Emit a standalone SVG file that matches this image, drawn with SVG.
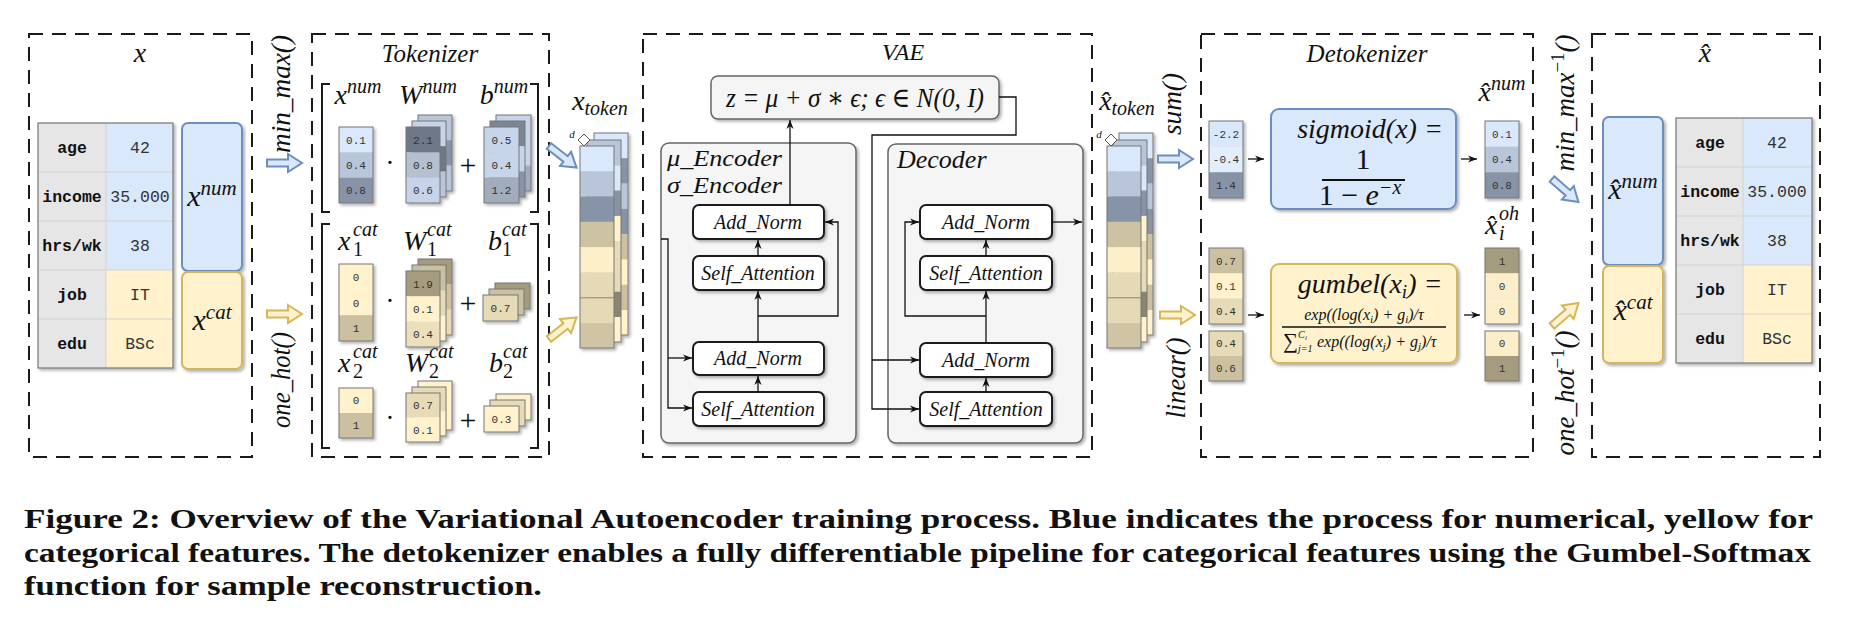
<svg xmlns="http://www.w3.org/2000/svg" xmlns:xlink="http://www.w3.org/1999/xlink" width="1852" height="640" viewBox="0 0 1852 640">
<defs>
<style>
.dash{fill:none;stroke:#1a1a1a;stroke-width:2;stroke-dasharray:14 9}
.m{font-family:"Liberation Serif","DejaVu Serif",serif;font-style:italic;fill:#111}
.r{font-family:"Liberation Serif","DejaVu Serif",serif;font-style:normal;fill:#111}
.key{font-family:"Liberation Mono","DejaVu Sans Mono",monospace;font-weight:bold;fill:#111;font-size:16.5px}
.val{font-family:"Liberation Mono","DejaVu Sans Mono",monospace;fill:#333;font-size:16.5px}
.cv{font-family:"Liberation Mono","DejaVu Sans Mono",monospace;fill:#333;font-size:11px}
.vo{fill:none;stroke:#777;stroke-width:1}
.blk{fill:#fff;stroke:#1a1a1a;stroke-width:2}
.cont{fill:#f5f5f5;stroke:#666;stroke-width:1.5}
.con{fill:none;stroke:#111;stroke-width:1.3}
.ba-b{fill:#dae8fc;stroke:#6c8ebf;stroke-width:2}
.ba-y{fill:#fff2cc;stroke:#d6b656;stroke-width:2}
.cap{font-family:"Liberation Serif","DejaVu Serif",serif;font-weight:bold;font-size:28px;fill:#111}
</style>
<filter id="sh" x="-20%" y="-20%" width="140%" height="140%">
<feDropShadow dx="2" dy="2" stdDeviation="1.5" flood-color="#000" flood-opacity="0.3"/>
</filter>
<marker id="ah" viewBox="0 0 10 10" refX="10" refY="5" markerWidth="9" markerHeight="9" markerUnits="userSpaceOnUse" orient="auto">
<path d="M0,1 L10,5 L0,9 L3,5 Z" fill="#111"/>
</marker>
<path id="barrow" d="M0,-3.5 H21 V-9 L35,0 L21,9 V3.5 H0 Z"/>
</defs>
<rect width="1852" height="640" fill="#fff"/>

<!-- ===== x panel ===== -->
<g id="panel-x">
<rect class="dash" x="29" y="34" width="223" height="423"/>
<text class="m" x="140" y="62" text-anchor="middle" font-size="28">x</text>
</g>
<g id="table-x" filter="url(#sh)">
<rect x="38" y="123" width="68" height="245" fill="#e6e6e6"/>
<rect x="106" y="123" width="67" height="147" fill="#dae8fc"/>
<rect x="106" y="270" width="67" height="98" fill="#fff2cc"/>
<path d="M38,172H173M38,221H173M38,270H173M38,319H173M106,123V368" stroke="#d2d2d2" stroke-width="1" fill="none"/>
<rect x="38" y="123" width="135" height="245" fill="none" stroke="#777" stroke-width="1.2"/>
</g>
<g id="table-x-text">
<text class="key" x="72" y="153" text-anchor="middle">age</text>
<text class="key" x="72" y="202" text-anchor="middle">income</text>
<text class="key" x="72" y="251" text-anchor="middle">hrs/wk</text>
<text class="key" x="72" y="300" text-anchor="middle">job</text>
<text class="key" x="72" y="349" text-anchor="middle">edu</text>
<text class="val" x="140" y="153" text-anchor="middle">42</text>
<text class="val" x="140" y="202" text-anchor="middle">35.000</text>
<text class="val" x="140" y="251" text-anchor="middle">38</text>
<text class="val" x="140" y="300" text-anchor="middle">IT</text>
<text class="val" x="140" y="349" text-anchor="middle">BSc</text>
</g>
<g id="x-num">
<rect x="182" y="123" width="60" height="148" rx="6" fill="#dae8fc" stroke="#6c8ebf" stroke-width="2" filter="url(#sh)"/>
<text class="m" x="212" y="206" text-anchor="middle" font-size="30">x<tspan dy="-11" font-size="21">num</tspan></text>
</g>
<g id="x-cat">
<rect x="182" y="272" width="60" height="97" rx="6" fill="#fff2cc" stroke="#d6b656" stroke-width="2" filter="url(#sh)"/>
<text class="m" x="212" y="330" text-anchor="middle" font-size="30">x<tspan dy="-11" font-size="21">cat</tspan></text>
</g>

<!-- ===== Tokenizer ===== -->
<g id="tokenizer">
<rect class="dash" x="312" y="34" width="237" height="423"/>
<text class="m" x="430" y="62" text-anchor="middle" font-size="25">Tokenizer</text>
<path d="M330,84H322V212H330M530,84H538V212H530" fill="none" stroke="#1a1a1a" stroke-width="2"/>
<path d="M330,224H322V448H330M530,224H538V448H530" fill="none" stroke="#1a1a1a" stroke-width="2"/>
<text class="m" x="358" y="104" text-anchor="middle" font-size="28">x<tspan dy="-11" font-size="20">num</tspan></text>
<text class="m" x="428" y="104" text-anchor="middle" font-size="28">W<tspan dy="-11" font-size="20">num</tspan></text>
<text class="m" x="504" y="104" text-anchor="middle" font-size="28">b<tspan dy="-11" font-size="20">num</tspan></text>
<text class="m" font-size="28"><tspan x="338" y="250">x</tspan><tspan x="353" y="236" font-size="20">cat</tspan></text>
<text class="r" x="353" y="256" font-size="20">1</text>
<text class="m" font-size="28"><tspan x="403" y="250">W</tspan><tspan x="427" y="236" font-size="20">cat</tspan></text>
<text class="r" x="427" y="256" font-size="20">1</text>
<text class="m" font-size="28"><tspan x="488" y="250">b</tspan><tspan x="502" y="236" font-size="20">cat</tspan></text>
<text class="r" x="502" y="256" font-size="20">1</text>
<text class="m" font-size="28"><tspan x="338" y="372">x</tspan><tspan x="353" y="358" font-size="20">cat</tspan></text>
<text class="r" x="353" y="378" font-size="20">2</text>
<text class="m" font-size="28"><tspan x="405" y="372">W</tspan><tspan x="429" y="358" font-size="20">cat</tspan></text>
<text class="r" x="429" y="378" font-size="20">2</text>
<text class="m" font-size="28"><tspan x="489" y="372">b</tspan><tspan x="503" y="358" font-size="20">cat</tspan></text>
<text class="r" x="503" y="378" font-size="20">2</text>
<text class="r" x="390" y="172" text-anchor="middle" font-size="28">·</text>
<text class="r" x="390" y="310" text-anchor="middle" font-size="28">·</text>
<text class="r" x="390" y="427" text-anchor="middle" font-size="28">·</text>
<text class="r" x="468" y="175" text-anchor="middle" font-size="30">+</text>
<text class="r" x="468" y="313" text-anchor="middle" font-size="30">+</text>
<text class="r" x="468" y="430" text-anchor="middle" font-size="30">+</text>
</g>

<g id="vec-xnum" filter="url(#sh)">
<rect x="339" y="127" width="34" height="25.4" fill="#dae8fc"/>
<rect x="339" y="152.4" width="34" height="25.3" fill="#b9c6d9"/>
<rect x="339" y="177.7" width="34" height="25.3" fill="#8793a6"/>
<rect class="vo" x="339" y="127" width="34" height="76"/>
</g>
<g class="cv" text-anchor="middle"><text x="356" y="144">0.1</text><text x="356" y="169">0.4</text><text x="356" y="194">0.8</text></g>

<g id="stack-wnum" filter="url(#sh)">
<rect x="418" y="115" width="34" height="25.3" fill="#b9c6d9"/><rect x="418" y="140.3" width="34" height="25.3" fill="#8793a6"/><rect x="418" y="165.6" width="34" height="25.4" fill="#b9c6d9"/><rect class="vo" x="418" y="115" width="34" height="76"/>
<rect x="412" y="121" width="34" height="25.3" fill="#c6d3e8"/><rect x="412" y="146.3" width="34" height="25.3" fill="#6e7888"/><rect x="412" y="171.6" width="34" height="25.4" fill="#b9c6d9"/><rect class="vo" x="412" y="121" width="34" height="76"/>
<rect x="406" y="127" width="34" height="25.3" fill="#6e7888"/><rect x="406" y="152.3" width="34" height="25.3" fill="#b4bfd0"/><rect x="406" y="177.6" width="34" height="25.4" fill="#c6d3e8"/><rect class="vo" x="406" y="127" width="34" height="76"/>
</g>
<g class="cv" text-anchor="middle"><text x="423" y="144">2.1</text><text x="423" y="169">0.8</text><text x="423" y="194">0.6</text></g>

<g id="stack-bnum" filter="url(#sh)">
<rect x="496" y="115" width="35" height="25.3" fill="#c6d5ea"/><rect x="496" y="140.3" width="35" height="25.3" fill="#c6d5ea"/><rect x="496" y="165.6" width="35" height="25.4" fill="#a1acbc"/><rect class="vo" x="496" y="115" width="35" height="76"/>
<rect x="490" y="121" width="35" height="25.3" fill="#7b8596"/><rect x="490" y="146.3" width="35" height="25.3" fill="#c6d5ea"/><rect x="490" y="171.6" width="35" height="25.4" fill="#8793a6"/><rect class="vo" x="490" y="121" width="35" height="76"/>
<rect x="484" y="127" width="35" height="25.3" fill="#c6d5ea"/><rect x="484" y="152.3" width="35" height="25.3" fill="#c6d5ea"/><rect x="484" y="177.6" width="35" height="25.4" fill="#a1acbc"/><rect class="vo" x="484" y="127" width="35" height="76"/>
</g>
<g class="cv" text-anchor="middle"><text x="501.5" y="144">0.5</text><text x="501.5" y="169">0.4</text><text x="501.5" y="194">1.2</text></g>

<g id="vec-x1cat" filter="url(#sh)">
<rect x="339" y="264" width="34" height="51.3" fill="#fff2cc"/>
<rect x="339" y="315.3" width="34" height="25.7" fill="#cbc1a1"/>
<rect class="vo" x="339" y="264" width="34" height="77"/>
</g>
<g class="cv" text-anchor="middle"><text x="356" y="281">0</text><text x="356" y="307">0</text><text x="356" y="332">1</text></g>

<g id="stack-w1cat" filter="url(#sh)">
<rect x="418" y="259" width="34" height="25.3" fill="#a59c7f"/><rect x="418" y="284.3" width="34" height="25.3" fill="#cbc1a1"/><rect x="418" y="309.6" width="34" height="25.4" fill="#e6dab7"/><rect class="vo" x="418" y="259" width="34" height="76"/>
<rect x="412" y="265" width="34" height="25.3" fill="#cbc1a1"/><rect x="412" y="290.3" width="34" height="25.3" fill="#e6dab7"/><rect x="412" y="315.6" width="34" height="25.4" fill="#fff2cc"/><rect class="vo" x="412" y="265" width="34" height="76"/>
<rect x="406" y="271" width="34" height="25.3" fill="#a59c7f"/><rect x="406" y="296.3" width="34" height="25.3" fill="#fff2cc"/><rect x="406" y="321.6" width="34" height="25.4" fill="#ecdfbb"/><rect class="vo" x="406" y="271" width="34" height="76"/>
</g>
<g class="cv" text-anchor="middle"><text x="423" y="288">1.9</text><text x="423" y="313">0.1</text><text x="423" y="338">0.4</text></g>

<g id="stack-b1cat" filter="url(#sh)">
<rect x="495" y="283" width="35" height="26" fill="#a59c7f" stroke="#777" stroke-width="1"/>
<rect x="489" y="289" width="35" height="26" fill="#cbc1a1" stroke="#777" stroke-width="1"/>
<rect x="483" y="295" width="35" height="26" fill="#e6dab7" stroke="#777" stroke-width="1"/>
</g>
<text class="cv" x="500.5" y="312" text-anchor="middle">0.7</text>

<g id="vec-x2cat" filter="url(#sh)">
<rect x="339" y="388" width="34" height="25" fill="#fff2cc"/>
<rect x="339" y="413" width="34" height="25" fill="#cbc1a1"/>
<rect class="vo" x="339" y="388" width="34" height="50"/>
</g>
<g class="cv" text-anchor="middle"><text x="356" y="404">0</text><text x="356" y="429">1</text></g>

<g id="stack-w2cat" filter="url(#sh)">
<rect x="418" y="381" width="34" height="49" fill="#fff2cc" stroke="#777" stroke-width="1"/>
<rect x="412" y="387" width="34" height="24.5" fill="#e6dab7"/><rect x="412" y="411.5" width="34" height="24.5" fill="#fff2cc"/><rect class="vo" x="412" y="387" width="34" height="49"/>
<rect x="406" y="393" width="34" height="24.5" fill="#e6dab7"/><rect x="406" y="417.5" width="34" height="24.5" fill="#fff2cc"/><rect class="vo" x="406" y="393" width="34" height="49"/>
</g>
<g class="cv" text-anchor="middle"><text x="423" y="409">0.7</text><text x="423" y="434">0.1</text></g>

<g id="stack-b2cat" filter="url(#sh)">
<rect x="496" y="394" width="35" height="26" fill="#fff2cc" stroke="#777" stroke-width="1"/>
<rect x="490" y="400" width="35" height="26" fill="#e6dab7" stroke="#777" stroke-width="1"/>
<rect x="484" y="406" width="35" height="26" fill="#fff2cc" stroke="#777" stroke-width="1"/>
</g>
<text class="cv" x="501.5" y="423" text-anchor="middle">0.3</text>

<!-- ===== x_token ===== -->
<g id="x-token">
<text class="m" x="600" y="110" text-anchor="middle" font-size="28">x<tspan dy="5" font-size="20">token</tspan></text>
<g filter="url(#sh)">
<rect x="594" y="133" width="34" height="25.3" fill="#dae8fc"/><rect x="594" y="158.3" width="34" height="25.3" fill="#8793a6"/><rect x="594" y="183.6" width="34" height="25.3" fill="#b9c6d9"/><rect x="594" y="208.9" width="34" height="25.3" fill="#8793a6"/><rect x="594" y="234.2" width="34" height="25.3" fill="#cbc1a1"/><rect x="594" y="259.5" width="34" height="25.3" fill="#fff2cc"/><rect x="594" y="284.8" width="34" height="25.3" fill="#cbc1a1"/><rect x="594" y="310.1" width="34" height="24.9" fill="#fff2cc"/><rect class="vo" x="594" y="133" width="34" height="202"/>
<rect x="587" y="140" width="34" height="25.3" fill="#b9c6d9"/><rect x="587" y="165.3" width="34" height="25.3" fill="#dae8fc"/><rect x="587" y="190.6" width="34" height="25.3" fill="#8793a6"/><rect x="587" y="215.9" width="34" height="25.3" fill="#fff2cc"/><rect x="587" y="241.2" width="34" height="25.3" fill="#e6dab7"/><rect x="587" y="266.5" width="34" height="25.3" fill="#e6dab7"/><rect x="587" y="291.8" width="34" height="25.3" fill="#8b8470"/><rect x="587" y="317.1" width="34" height="24.9" fill="#fff2cc"/><rect class="vo" x="587" y="140" width="34" height="202"/>
<rect x="580" y="146" width="34" height="25.3" fill="#dae8fc"/><rect x="580" y="171.3" width="34" height="25.3" fill="#b9c6d9"/><rect x="580" y="196.6" width="34" height="25.3" fill="#8793a6"/><rect x="580" y="221.9" width="34" height="25.3" fill="#cdc3a3"/><rect x="580" y="247.2" width="34" height="25.3" fill="#fdf0c9"/><rect x="580" y="272.5" width="34" height="25.3" fill="#e6dab6"/><rect x="580" y="297.8" width="34" height="25.3" fill="#e6dab6"/><rect x="580" y="323.1" width="34" height="24.9" fill="#cfc5a5"/><rect class="vo" x="580" y="146" width="34" height="202"/>
<line x1="580" y1="297.8" x2="614" y2="297.8" stroke="#888" stroke-width="1"/>
</g>
<polygon points="578,140 584,134 590,140 584,146" fill="#fff" stroke="#555" stroke-width="1"/>
<text class="m" x="572" y="138" text-anchor="middle" font-size="11">d</text>
</g>

<!-- ===== VAE ===== -->
<g id="vae">
<rect class="dash" x="643" y="34" width="449" height="423"/>
<text class="m" x="903" y="60" text-anchor="middle" font-size="24">VAE</text>
</g>
<g id="z-box">
<rect x="711" y="76" width="288" height="43" rx="7" fill="#f5f5f5" stroke="#666" stroke-width="1.5" filter="url(#sh)"/>
<text class="m" x="855" y="107" text-anchor="middle" font-size="28" textLength="258" lengthAdjust="spacingAndGlyphs">z = μ + σ ∗ ϵ; ϵ ∈ N(0, I)</text>
</g>
<g id="encoder">
<rect class="cont" x="661" y="143" width="195" height="300" rx="8" filter="url(#sh)"/>
<text class="m" x="667" y="166" font-size="24" textLength="115" lengthAdjust="spacingAndGlyphs">μ_Encoder</text>
<text class="m" x="667" y="193" font-size="24" textLength="115" lengthAdjust="spacingAndGlyphs">σ_Encoder</text>
</g>
<g id="enc-addnorm-top"><rect class="blk" x="693" y="205" width="131" height="34" rx="6" filter="url(#sh)"/><text class="m" x="758" y="229" text-anchor="middle" font-size="20">Add_Norm</text></g>
<g id="enc-selfatt-top"><rect class="blk" x="693" y="256" width="131" height="34" rx="6" filter="url(#sh)"/><text class="m" x="758" y="280" text-anchor="middle" font-size="20">Self_Attention</text></g>
<g id="enc-addnorm-bot"><rect class="blk" x="693" y="342" width="131" height="33" rx="6" filter="url(#sh)"/><text class="m" x="758" y="365" text-anchor="middle" font-size="20">Add_Norm</text></g>
<g id="enc-selfatt-bot"><rect class="blk" x="693" y="392" width="131" height="34" rx="6" filter="url(#sh)"/><text class="m" x="758" y="416" text-anchor="middle" font-size="20">Self_Attention</text></g>
<g id="decoder">
<rect class="cont" x="888" y="144" width="195" height="299" rx="8" filter="url(#sh)"/>
<text class="m" x="897" y="168" font-size="26">Decoder</text>
</g>
<g id="dec-addnorm-top"><rect class="blk" x="920" y="205" width="132" height="34" rx="6" filter="url(#sh)"/><text class="m" x="986" y="229" text-anchor="middle" font-size="20">Add_Norm</text></g>
<g id="dec-selfatt-top"><rect class="blk" x="920" y="256" width="132" height="34" rx="6" filter="url(#sh)"/><text class="m" x="986" y="280" text-anchor="middle" font-size="20">Self_Attention</text></g>
<g id="dec-addnorm-bot"><rect class="blk" x="920" y="343" width="132" height="34" rx="6" filter="url(#sh)"/><text class="m" x="986" y="367" text-anchor="middle" font-size="20">Add_Norm</text></g>
<g id="dec-selfatt-bot"><rect class="blk" x="920" y="392" width="132" height="34" rx="6" filter="url(#sh)"/><text class="m" x="986" y="416" text-anchor="middle" font-size="20">Self_Attention</text></g>

<!-- ===== x̂_token ===== -->
<g id="xhat-token">
<text class="m" x="1127" y="110" text-anchor="middle" font-size="28">x̂<tspan dy="5" font-size="20">token</tspan></text>
<g filter="url(#sh)">
<rect x="1119" y="133" width="34" height="25.3" fill="#dae8fc"/><rect x="1119" y="158.3" width="34" height="25.3" fill="#8793a6"/><rect x="1119" y="183.6" width="34" height="25.3" fill="#b9c6d9"/><rect x="1119" y="208.9" width="34" height="25.3" fill="#8793a6"/><rect x="1119" y="234.2" width="34" height="25.3" fill="#cbc1a1"/><rect x="1119" y="259.5" width="34" height="25.3" fill="#fff2cc"/><rect x="1119" y="284.8" width="34" height="25.3" fill="#cbc1a1"/><rect x="1119" y="310.1" width="34" height="24.9" fill="#fff2cc"/><rect class="vo" x="1119" y="133" width="34" height="202"/>
<rect x="1113" y="140" width="34" height="25.3" fill="#b9c6d9"/><rect x="1113" y="165.3" width="34" height="25.3" fill="#dae8fc"/><rect x="1113" y="190.6" width="34" height="25.3" fill="#8793a6"/><rect x="1113" y="215.9" width="34" height="25.3" fill="#fff2cc"/><rect x="1113" y="241.2" width="34" height="25.3" fill="#e6dab7"/><rect x="1113" y="266.5" width="34" height="25.3" fill="#e6dab7"/><rect x="1113" y="291.8" width="34" height="25.3" fill="#8b8470"/><rect x="1113" y="317.1" width="34" height="24.9" fill="#fff2cc"/><rect class="vo" x="1113" y="140" width="34" height="202"/>
<rect x="1107" y="146" width="34" height="25.3" fill="#dae8fc"/><rect x="1107" y="171.3" width="34" height="25.3" fill="#b9c6d9"/><rect x="1107" y="196.6" width="34" height="25.3" fill="#8793a6"/><rect x="1107" y="221.9" width="34" height="25.3" fill="#cdc3a3"/><rect x="1107" y="247.2" width="34" height="25.3" fill="#fdf0c9"/><rect x="1107" y="272.5" width="34" height="25.3" fill="#e6dab6"/><rect x="1107" y="297.8" width="34" height="25.3" fill="#e6dab6"/><rect x="1107" y="323.1" width="34" height="24.9" fill="#cfc5a5"/><rect class="vo" x="1107" y="146" width="34" height="202"/>
<line x1="1107" y1="297.8" x2="1141" y2="297.8" stroke="#888" stroke-width="1"/>
</g>
<polygon points="1105,140 1111,134 1117,140 1111,146" fill="#fff" stroke="#555" stroke-width="1"/>
<text class="m" x="1099" y="138" text-anchor="middle" font-size="11">d</text>
</g>

<!-- ===== Detokenizer ===== -->
<g id="detokenizer">
<rect class="dash" x="1201" y="34" width="332" height="423"/>
<text class="m" x="1367" y="62" text-anchor="middle" font-size="25">Detokenizer</text>
<text class="m" x="1502" y="101" text-anchor="middle" font-size="28">x̂<tspan dy="-11" font-size="20">num</tspan></text>
<text class="m" font-size="28"><tspan x="1485" y="234">x̂</tspan><tspan x="1499" y="220" font-size="20">oh</tspan><tspan x="1499" y="240" font-size="20">i</tspan></text>
</g>
<g id="sigmoid-box">
<rect x="1271" y="109" width="185" height="100" rx="8" fill="#dae8fc" stroke="#6c8ebf" stroke-width="2" filter="url(#sh)"/>
<text class="m" x="1370" y="138" text-anchor="middle" font-size="28">sigmoid(x) =</text>
<text class="r" x="1363" y="169" text-anchor="middle" font-size="30">1</text>
<line x1="1322" y1="180" x2="1405" y2="180" stroke="#111" stroke-width="2"/>
<text class="r" x="1360" y="205" text-anchor="middle" font-size="30">1 − <tspan font-style="italic">e</tspan><tspan dy="-11" font-size="20" font-style="italic">−x</tspan></text>
</g>
<g id="gumbel-box">
<rect x="1271" y="264" width="186" height="99" rx="8" fill="#fff2cc" stroke="#d6b656" stroke-width="2" filter="url(#sh)"/>
<text class="m" x="1370" y="293" text-anchor="middle" font-size="28">gumbel(x<tspan dy="5" font-size="19">i</tspan><tspan dy="-5">) =</tspan></text>
<text class="m" x="1364" y="320" text-anchor="middle" font-size="16">exp((log(x<tspan dy="3" font-size="11">i</tspan><tspan dy="-3">) + g</tspan><tspan dy="3" font-size="11">i</tspan><tspan dy="-3">)/τ</tspan></text>
<line x1="1282" y1="327" x2="1446" y2="327" stroke="#111" stroke-width="1.3"/>
<text class="m" font-size="16"><tspan x="1283" y="348" class="r" font-size="21">∑</tspan><tspan x="1298" y="338" font-size="10">C</tspan><tspan x="1305" y="340" font-size="7">i</tspan><tspan x="1298" y="352" font-size="10">j=1</tspan><tspan x="1317" y="347">exp((log(x</tspan><tspan dy="3" font-size="11">j</tspan><tspan dy="-3">) + g</tspan><tspan dy="3" font-size="11">j</tspan><tspan dy="-3">)/τ</tspan></text>
</g>
<g id="vec-det-in-num" filter="url(#sh)">
<rect x="1209" y="121" width="34" height="25.7" fill="#dae8fc"/><rect x="1209" y="146.7" width="34" height="25.6" fill="#e3eefd"/><rect x="1209" y="172.3" width="34" height="25.7" fill="#8793a6"/><rect class="vo" x="1209" y="121" width="34" height="77"/>
</g>
<g class="cv" text-anchor="middle"><text x="1226" y="138">-2.2</text><text x="1226" y="163">-0.4</text><text x="1226" y="189">1.4</text></g>
<g id="vec-det-out-num" filter="url(#sh)">
<rect x="1485" y="121" width="34" height="25.7" fill="#dae8fc"/><rect x="1485" y="146.7" width="34" height="25.6" fill="#b9c6d9"/><rect x="1485" y="172.3" width="34" height="25.7" fill="#8793a6"/><rect class="vo" x="1485" y="121" width="34" height="77"/>
</g>
<g class="cv" text-anchor="middle"><text x="1502" y="138">0.1</text><text x="1502" y="163">0.4</text><text x="1502" y="189">0.8</text></g>
<g id="vec-det-in-cat" filter="url(#sh)">
<rect x="1209" y="248" width="34" height="25.3" fill="#cbc1a1"/><rect x="1209" y="273.3" width="34" height="25.3" fill="#fff2cc"/><rect x="1209" y="298.6" width="34" height="25.4" fill="#e6dab7"/><rect class="vo" x="1209" y="248" width="34" height="76"/>
<rect x="1209" y="331" width="34" height="25" fill="#e6dab7"/><rect x="1209" y="356" width="34" height="25" fill="#cbc1a1"/><rect class="vo" x="1209" y="331" width="34" height="50"/>
</g>
<g class="cv" text-anchor="middle"><text x="1226" y="265">0.7</text><text x="1226" y="290">0.1</text><text x="1226" y="315">0.4</text><text x="1226" y="347">0.4</text><text x="1226" y="372">0.6</text></g>
<g id="vec-det-out-cat" filter="url(#sh)">
<rect x="1485" y="248" width="34" height="25.3" fill="#a59c7f"/><rect x="1485" y="273.3" width="34" height="25.3" fill="#fbeec8"/><rect x="1485" y="298.6" width="34" height="25.4" fill="#fbeec8"/><rect class="vo" x="1485" y="248" width="34" height="76"/>
<rect x="1485" y="331" width="34" height="25" fill="#fbeec8"/><rect x="1485" y="356" width="34" height="25" fill="#a59c7f"/><rect class="vo" x="1485" y="331" width="34" height="50"/>
</g>
<g class="cv" text-anchor="middle"><text x="1502" y="265">1</text><text x="1502" y="290">0</text><text x="1502" y="315">0</text><text x="1502" y="347">0</text><text x="1502" y="372">1</text></g>

<!-- ===== x̂ panel ===== -->
<g id="panel-xhat">
<rect class="dash" x="1592" y="34" width="228" height="423"/>
<text class="m" x="1705" y="62" text-anchor="middle" font-size="28">x̂</text>
</g>
<g id="xhat-num">
<rect x="1603" y="117" width="60" height="148" rx="6" fill="#dae8fc" stroke="#6c8ebf" stroke-width="2" filter="url(#sh)"/>
<text class="m" x="1633" y="199" text-anchor="middle" font-size="30">x̂<tspan dy="-11" font-size="21">num</tspan></text>
</g>
<g id="xhat-cat">
<rect x="1603" y="266" width="60" height="97" rx="6" fill="#fff2cc" stroke="#d6b656" stroke-width="2" filter="url(#sh)"/>
<text class="m" x="1633" y="320" text-anchor="middle" font-size="30">x̂<tspan dy="-11" font-size="21">cat</tspan></text>
</g>
<g id="table-xhat" filter="url(#sh)">
<rect x="1676" y="118" width="67" height="245" fill="#e6e6e6"/>
<rect x="1743" y="118" width="69" height="147" fill="#dae8fc"/>
<rect x="1743" y="265" width="69" height="98" fill="#fff2cc"/>
<path d="M1676,167H1812M1676,216H1812M1676,265H1812M1676,314H1812M1743,118V363" stroke="#d2d2d2" stroke-width="1" fill="none"/>
<rect x="1676" y="118" width="136" height="245" fill="none" stroke="#777" stroke-width="1.2"/>
</g>
<g id="table-xhat-text">
<text class="key" x="1710" y="148" text-anchor="middle">age</text>
<text class="key" x="1710" y="197" text-anchor="middle">income</text>
<text class="key" x="1710" y="246" text-anchor="middle">hrs/wk</text>
<text class="key" x="1710" y="295" text-anchor="middle">job</text>
<text class="key" x="1710" y="344" text-anchor="middle">edu</text>
<text class="val" x="1777" y="148" text-anchor="middle">42</text>
<text class="val" x="1777" y="197" text-anchor="middle">35.000</text>
<text class="val" x="1777" y="246" text-anchor="middle">38</text>
<text class="val" x="1777" y="295" text-anchor="middle">IT</text>
<text class="val" x="1777" y="344" text-anchor="middle">BSc</text>
</g>

<!-- ===== rotated labels ===== -->
<g id="labels-rot">
<text class="m" transform="translate(290,94) rotate(-90)" text-anchor="middle" font-size="27" textLength="118" lengthAdjust="spacingAndGlyphs">min_max()</text>
<text class="m" transform="translate(290,380) rotate(-90)" text-anchor="middle" font-size="27" textLength="96" lengthAdjust="spacingAndGlyphs">one_hot()</text>
<text class="m" transform="translate(1181,104) rotate(-90)" text-anchor="middle" font-size="27" textLength="62" lengthAdjust="spacingAndGlyphs">sum()</text>
<text class="m" transform="translate(1185,378) rotate(-90)" text-anchor="middle" font-size="27" textLength="81" lengthAdjust="spacingAndGlyphs">linear()</text>
<text class="m" transform="translate(1574,103) rotate(-90)" text-anchor="middle" font-size="27">min_max<tspan dy="-10" font-size="19" font-style="normal">−1</tspan><tspan dy="10">()</tspan></text>
<text class="m" transform="translate(1574,393) rotate(-90)" text-anchor="middle" font-size="27">one_hot<tspan dy="-10" font-size="19" font-style="normal">−1</tspan><tspan dy="10">()</tspan></text>
</g>

<!-- ===== connectors ===== -->
<g id="connectors">
<use xlink:href="#barrow" class="ba-b" transform="translate(267,163)"/>
<use xlink:href="#barrow" class="ba-y" transform="translate(267,314)"/>
<use xlink:href="#barrow" class="ba-b" transform="translate(549,146) rotate(38)"/>
<use xlink:href="#barrow" class="ba-y" transform="translate(549,339) rotate(-38)"/>
<use xlink:href="#barrow" class="ba-b" transform="translate(1158,159)"/>
<use xlink:href="#barrow" class="ba-y" transform="translate(1160,315)"/>
<use xlink:href="#barrow" class="ba-b" transform="translate(1552,179) rotate(41)"/>
<use xlink:href="#barrow" class="ba-y" transform="translate(1552,326) rotate(-41)"/>
<path class="con" d="M790,205V120" marker-end="url(#ah)"/>
<path class="con" d="M758,256V240" marker-end="url(#ah)"/>
<path class="con" d="M758,342V291" marker-end="url(#ah)"/>
<path class="con" d="M758,316H838V222H825" marker-end="url(#ah)"/>
<path class="con" d="M758,392V376" marker-end="url(#ah)"/>
<path class="con" d="M661,239H668V408H692" marker-end="url(#ah)"/>
<path class="con" d="M668,358H692" marker-end="url(#ah)"/>
<path class="con" d="M999,97H1016V135H872V409H919" marker-end="url(#ah)"/>
<path class="con" d="M872,360H919" marker-end="url(#ah)"/>
<path class="con" d="M986,392V378" marker-end="url(#ah)"/>
<path class="con" d="M986,343V291" marker-end="url(#ah)"/>
<path class="con" d="M986,316H905V222H919" marker-end="url(#ah)"/>
<path class="con" d="M986,256V240" marker-end="url(#ah)"/>
<path class="con" d="M1052,222H1082" marker-end="url(#ah)"/>
<path class="con" d="M1248,159H1264" marker-end="url(#ah)"/>
<path class="con" d="M1461,159H1477" marker-end="url(#ah)"/>
<path class="con" d="M1248,315H1264" marker-end="url(#ah)"/>
<path class="con" d="M1464,315H1480" marker-end="url(#ah)"/>
</g>

<!-- ===== caption ===== -->
<g id="caption">
<text class="cap" x="24" y="528" textLength="1789" lengthAdjust="spacingAndGlyphs">Figure 2: Overview of the Variational Autoencoder training process. Blue indicates the process for numerical, yellow for</text>
<text class="cap" x="24" y="562" textLength="1787" lengthAdjust="spacingAndGlyphs">categorical features. The detokenizer enables a fully differentiable pipeline for categorical features using the Gumbel-Softmax</text>
<text class="cap" x="24" y="595" textLength="518" lengthAdjust="spacingAndGlyphs">function for sample reconstruction.</text>
</g>
</svg>
